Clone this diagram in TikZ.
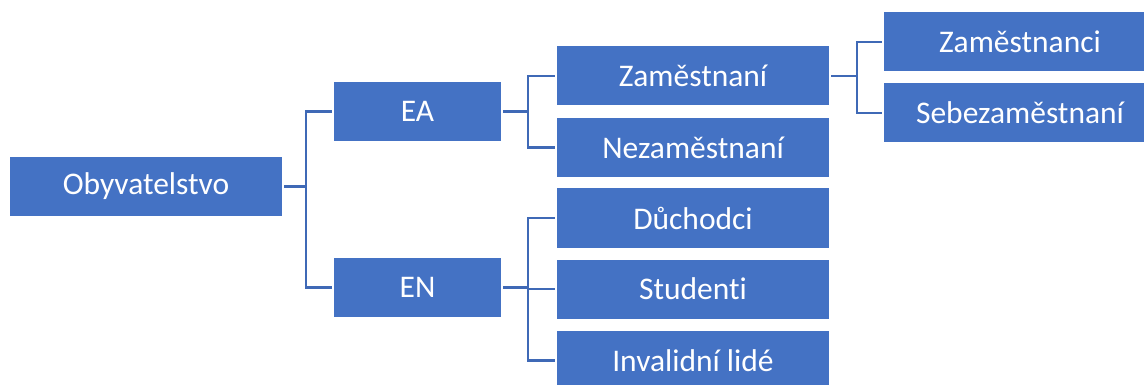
\documentclass[tikz,border=0pt]{standalone}
\usepackage{fontspec}
\setmainfont{Carlito}[Ligatures={NoCommon}]
\definecolor{boxblue}{HTML}{4472C4}
\definecolor{lineblue}{HTML}{3F69B6}
\tikzset{
  box/.style={rectangle, fill=boxblue, draw=none, inner sep=0pt, text=white,
    minimum height=59pt, font=\fontsize{31.5}{36}\selectfont},
  wide/.style={box, minimum width=272pt},
  narrow/.style={box, minimum width=167pt},
  link/.style={draw=lineblue, line width=2.2pt, shorten <=2pt, shorten >=2pt}
}
\begin{document}
\begin{tikzpicture}[x=1pt,y=-1pt]
\useasboundingbox (0,0) rectangle (1144,385);
\clip (0,0) rectangle (1144,385);
\node[wide] (obyv) at (146,186.5) {Obyvatelstvo};
\node[narrow] (ea) at (417.5,111.5) {EA};
\node[narrow] (en) at (417.5,287.5) {EN};
\node[wide] (zam) at (693,76) {Zaměstnaní};
\node[wide] (nezam) at (693,147.5) {Nezaměstnaní};
\node[wide] (duch) at (693,218) {Důchodci};
\node[wide] (stud) at (693,289) {Studenti};
\node[wide] (inval) at (693,360.5) {Invalidní lidé};
\node[wide] (zamci) at (1020,42) {Zaměstnanci};
\node[wide] (sebe) at (1020,113) {Sebezaměstnaní};
% connectors
\draw[link] (obyv.east) -- ++(24,0) |- (ea.west);
\draw[link] (obyv.east) -- ++(24,0) |- (en.west);
\draw[link] (ea.east) -- ++(27,0) |- (zam.west);
\draw[link] (ea.east) -- ++(27,0) |- (nezam.west);
\draw[link] (en.east) -- ++(27,0) |- (duch.west);
\draw[link] (en.east) -- ++(27,0) |- (stud.west);
\draw[link] (en.east) -- ++(27,0) |- (inval.west);
\draw[link] (zam.east) -- ++(28,0) |- (zamci.west);
\draw[link] (zam.east) -- ++(28,0) |- (sebe.west);
\end{tikzpicture}
\end{document}
